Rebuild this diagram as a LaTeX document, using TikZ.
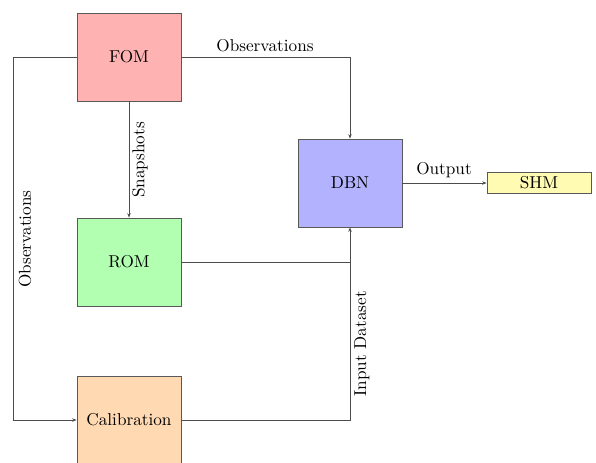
\documentclass[tikz,border=0pt]{standalone}
\usetikzlibrary{arrows.meta}
\begin{document}
\begin{tikzpicture}[x=0.5814pt,y=-0.5814pt,
  blk/.style={draw=black!65,line width=0.5pt,minimum width=60.5pt,minimum height=51.2pt,inner sep=0pt},
  conn/.style={draw=black!70,line width=0.5pt},
  arr/.style={conn,-{Stealth[length=2.5pt,width=2pt]}},
  lbl/.style={inner sep=0pt}]
\useasboundingbox (0,0) rectangle (596,462);
\node[blk,fill=red!30] (fom) at (129,57) {FOM};
\node[blk,fill=green!30] (rom) at (129,262) {ROM};
\node[blk,fill=orange!30] (cal) at (129,420) {Calibration};
\node[blk,fill=blue!30] (dbn) at (350,183) {DBN};
\node[draw=black!65,line width=0.5pt,fill=yellow!30,minimum width=60.5pt,minimum height=12.2pt,inner sep=0pt] (shm) at (539,183) {SHM};
\coordinate (tl) at (13,57);
\coordinate (bl) at (13,420);
\coordinate (tr) at (350,57);
\coordinate (mr) at (350,262);
\coordinate (br) at (350,420);
\draw[arr] (fom.west) -- (tl) -- (bl) -- (cal.west);
\draw[arr] (fom.east) -- (tr) -- (dbn.north);
\draw[arr] (fom.south) -- (rom.north);
\draw[conn] (rom.east) -- (mr);
\draw[arr] (cal.east) -- (br) -- (dbn.south);
\draw[arr] (dbn.east) -- (shm.west);
\node[lbl] (lobs) at (265,46) {Observations};
\node[lbl,rotate=90] (lobs2) at (25,239) {Observations};
\node[lbl,rotate=90] (lsnap) at (140,160) {Snapshots};
\node[lbl,rotate=90] (linp) at (362,344) {Input Dataset};
\node[lbl] (lout) at (444,170) {Output};
\end{tikzpicture}
\end{document}
